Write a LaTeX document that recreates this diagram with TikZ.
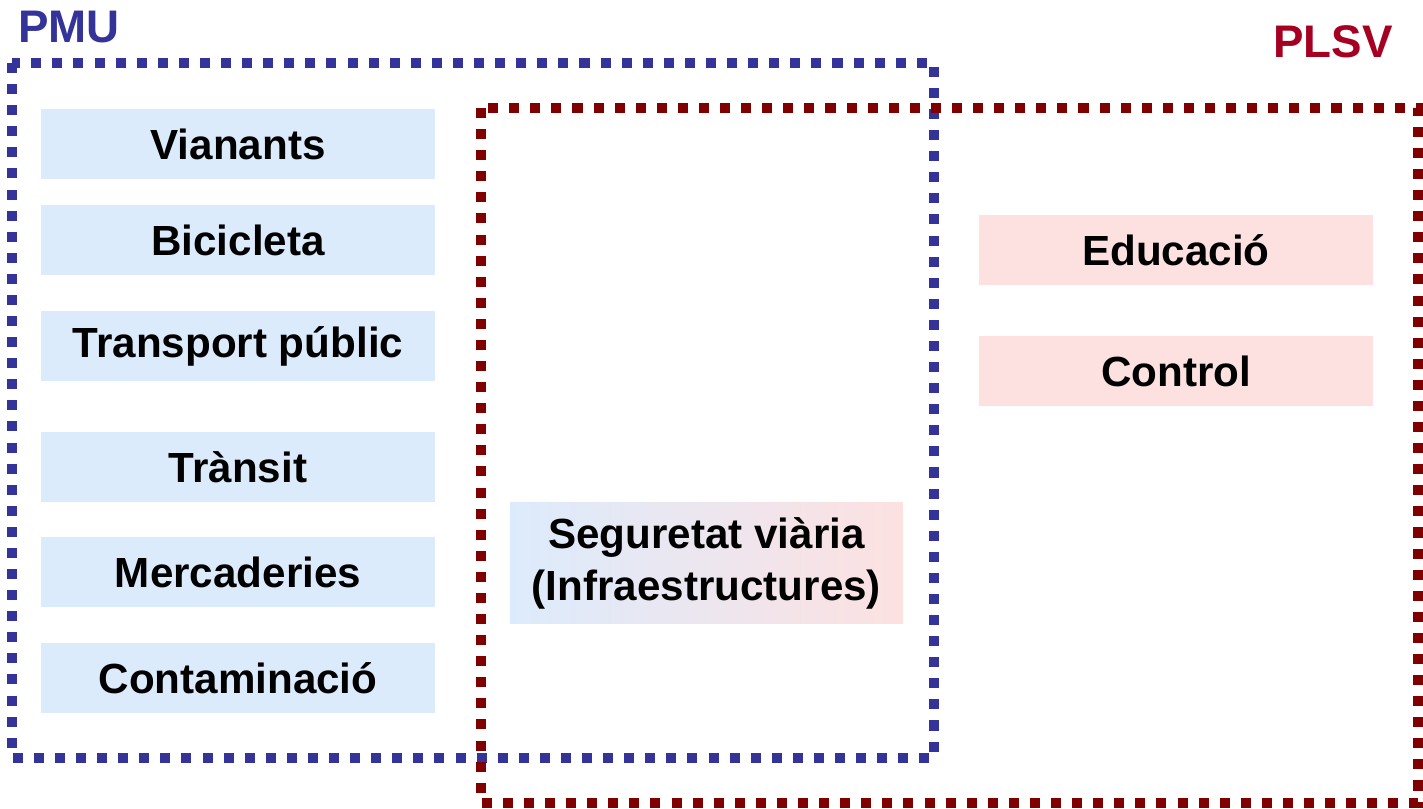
\documentclass[tikz,border=0pt]{standalone}
\usepackage{fontspec}
\setmainfont{Liberation Sans}
\usepackage{tikz}
\usetikzlibrary{positioning}

\definecolor{pmublue}{HTML}{333399}
\definecolor{plsvred}{HTML}{800000}
\definecolor{plsvtext}{HTML}{A50021}
\definecolor{boxblue}{HTML}{DCEBFC}
\definecolor{boxpink}{HTML}{FDE1E1}

\begin{document}
\begin{tikzpicture}[x=0.02cm, y=-0.02cm,
    frame/.style={line width=5.7pt, dash pattern=on 5.7pt off 6.3pt},
    title/.style={font=\fontsize{26}{30}\selectfont\bfseries},
    item/.style={minimum width=7.88cm, minimum height=1.4cm, inner sep=0pt,
        font=\fontsize{24}{29.6}\selectfont\bfseries, align=center},
    pmuitem/.style={item, fill=boxblue},
    plsvitem/.style={item, fill=boxpink}]

    \useasboundingbox (0,0) rectangle (1423,808);

    % Frames of both plans
    \draw[frame, pmublue] (12,63) rectangle (934,758);
    \draw[frame, plsvred] (481,108) rectangle (1418,803);

    % Plan titles
    \node[title, text=pmublue] (PMU) at (69,27) {PMU};
    \node[title, text=plsvtext] (PLSV) at (1333,42) {PLSV};

    % PMU topics
    \node[pmuitem] (P1) at (238,144) {Vianants};
    \node[pmuitem] (P2) at (238,240) {Bicicleta};
    \node[pmuitem] (P3) at (238,346) {Transport públic};
    \node[pmuitem] (P4) at (238,467) {Trànsit};
    \node[pmuitem] (P5) at (238,572) {Mercaderies};
    \node[pmuitem] (P6) at (238,678) {Contaminació};

    % PLSV topics
    \node[plsvitem] (S1) at (1176,250) {Educació};
    \node[plsvitem] (S2) at (1176,371) {Control};

    % Shared topic
    \node[item, minimum width=7.86cm, minimum height=2.44cm,
        left color=boxblue, right color=boxpink] (SV) at (706.5,563)
        {Seguretat viària\\(Infraestructures)};

\end{tikzpicture}
\end{document}
